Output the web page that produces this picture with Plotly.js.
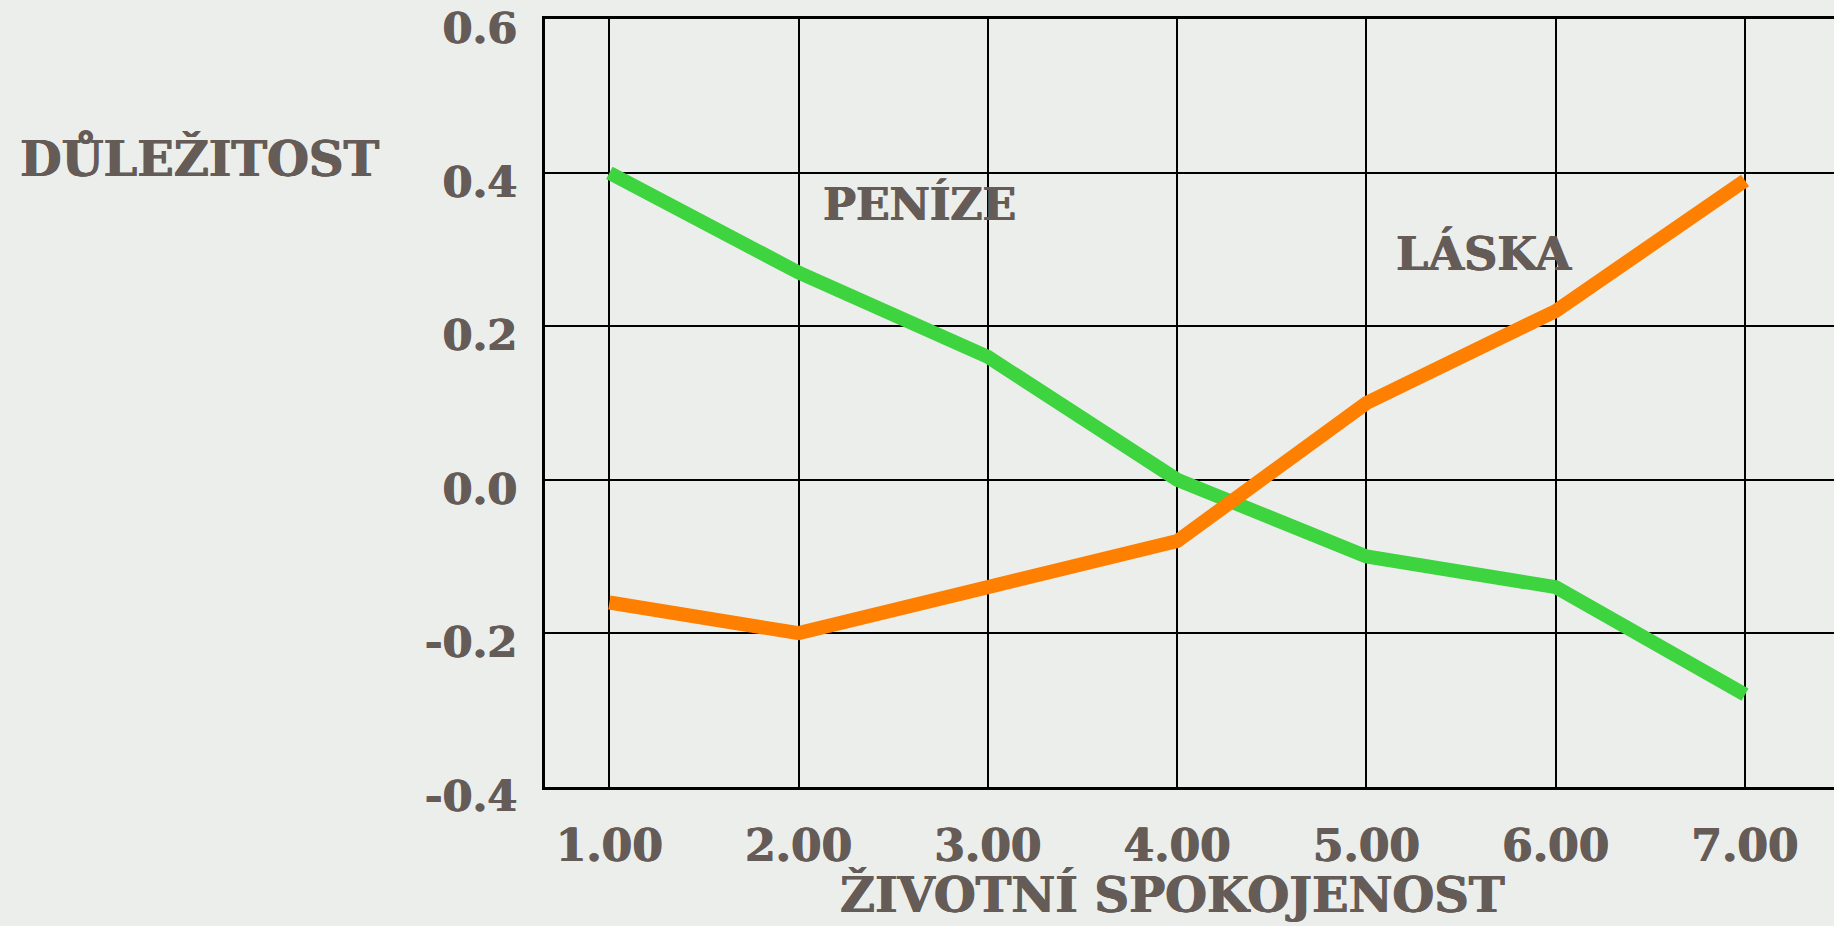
<!DOCTYPE html>
<html>
<head>
<meta charset="utf-8">
<script src="https://cdn.plot.ly/plotly-3.0.1.min.js"></script>
<style>html,body{margin:0;padding:0;background:#ECEEEB;}#chart{width:1834px;height:926px;}</style>
</head>
<body>
<div id="chart"></div>
<script>
const satisfaction = [1, 2, 3, 4, 5, 6, 7];
const money = [0.40, 0.27, 0.16, 0.00, -0.10, -0.14, -0.28];
const love = [-0.16, -0.20, -0.14, -0.08, 0.10, 0.22, 0.39];
const xTickVals = [1, 2, 3, 4, 5, 6, 7];
const xTickLabels = ['1.00', '2.00', '3.00', '4.00', '5.00', '6.00', '7.00'];
const yTickVals = [-0.4, -0.2, 0, 0.2, 0.4, 0.6];
const yTickLabels = ['-0.4', '-0.2', '0.0', '0.2', '0.4', '0.6'];
const seriesNames = ['PENÍZE', 'LÁSKA'];
const xTitle = 'ŽIVOTNÍ SPOKOJENOST';
const yTitle = 'DŮLEŽITOST';

const textColor = '#655C58';
const fam = 'DejaVu Serif';
const heavy = '0.6px 0 0 #655C58, -0.6px 0 0 #655C58';

function f(size) {
  return {family: fam, size: size, color: textColor, weight: 700, shadow: heavy};
}

const traces = [
  {x: satisfaction, y: money, name: seriesNames[0], mode: 'lines', line: {color: '#3DD43F', width: 14}},
  {x: satisfaction, y: love, name: seriesNames[1], mode: 'lines', line: {color: '#FF7F00', width: 14}}
];

const layout = {
  width: 1834, height: 926,
  paper_bgcolor: '#ECEEEB', plot_bgcolor: '#ECEEEB',
  margin: {l: 545, r: 0, t: 19, b: 139},
  showlegend: false,
  font: {family: fam, color: textColor, weight: 700},
  xaxis: {
    range: [0.66, 7.47], tickvals: xTickVals, ticktext: xTickLabels,
    showgrid: true, gridcolor: '#000', gridwidth: 2,
    showline: true, linecolor: '#000', linewidth: 3, mirror: true,
    zeroline: false, ticks: '', ticklabelstandoff: 18,
    tickfont: f(44)
  },
  yaxis: {
    range: [-0.4005, 0.6005], tickvals: yTickVals, ticktext: yTickLabels,
    showgrid: true, gridcolor: '#000', gridwidth: 2,
    showline: true, linecolor: '#000', linewidth: 3, mirror: true,
    zeroline: true, zerolinecolor: '#000', zerolinewidth: 2,
    ticks: '', ticklabelstandoff: 16, ticklabeloverflow: 'allow', ticklabelshift: 9,
    tickfont: f(43)
  },
  annotations: [
    {text: xTitle, xref: 'paper', yref: 'paper', x: 0.487, y: -0.141, yanchor: 'middle', xanchor: 'center', showarrow: false,
     font: f(48)},
    {text: yTitle, xref: 'paper', yref: 'paper', x: -0.268, y: 0.819, xanchor: 'center', yanchor: 'middle', showarrow: false,
     font: f(48)},
    {text: seriesNames[0], x: 2.64, y: 0.36, xref: 'x', yref: 'y', showarrow: false,
     font: f(44)},
    {text: seriesNames[1], x: 5.62, y: 0.295, xref: 'x', yref: 'y', showarrow: false,
     font: f(46)}
  ]
};

Plotly.newPlot('chart', traces, layout, {displayModeBar: false, staticPlot: true});
</script>
</body>
</html>
